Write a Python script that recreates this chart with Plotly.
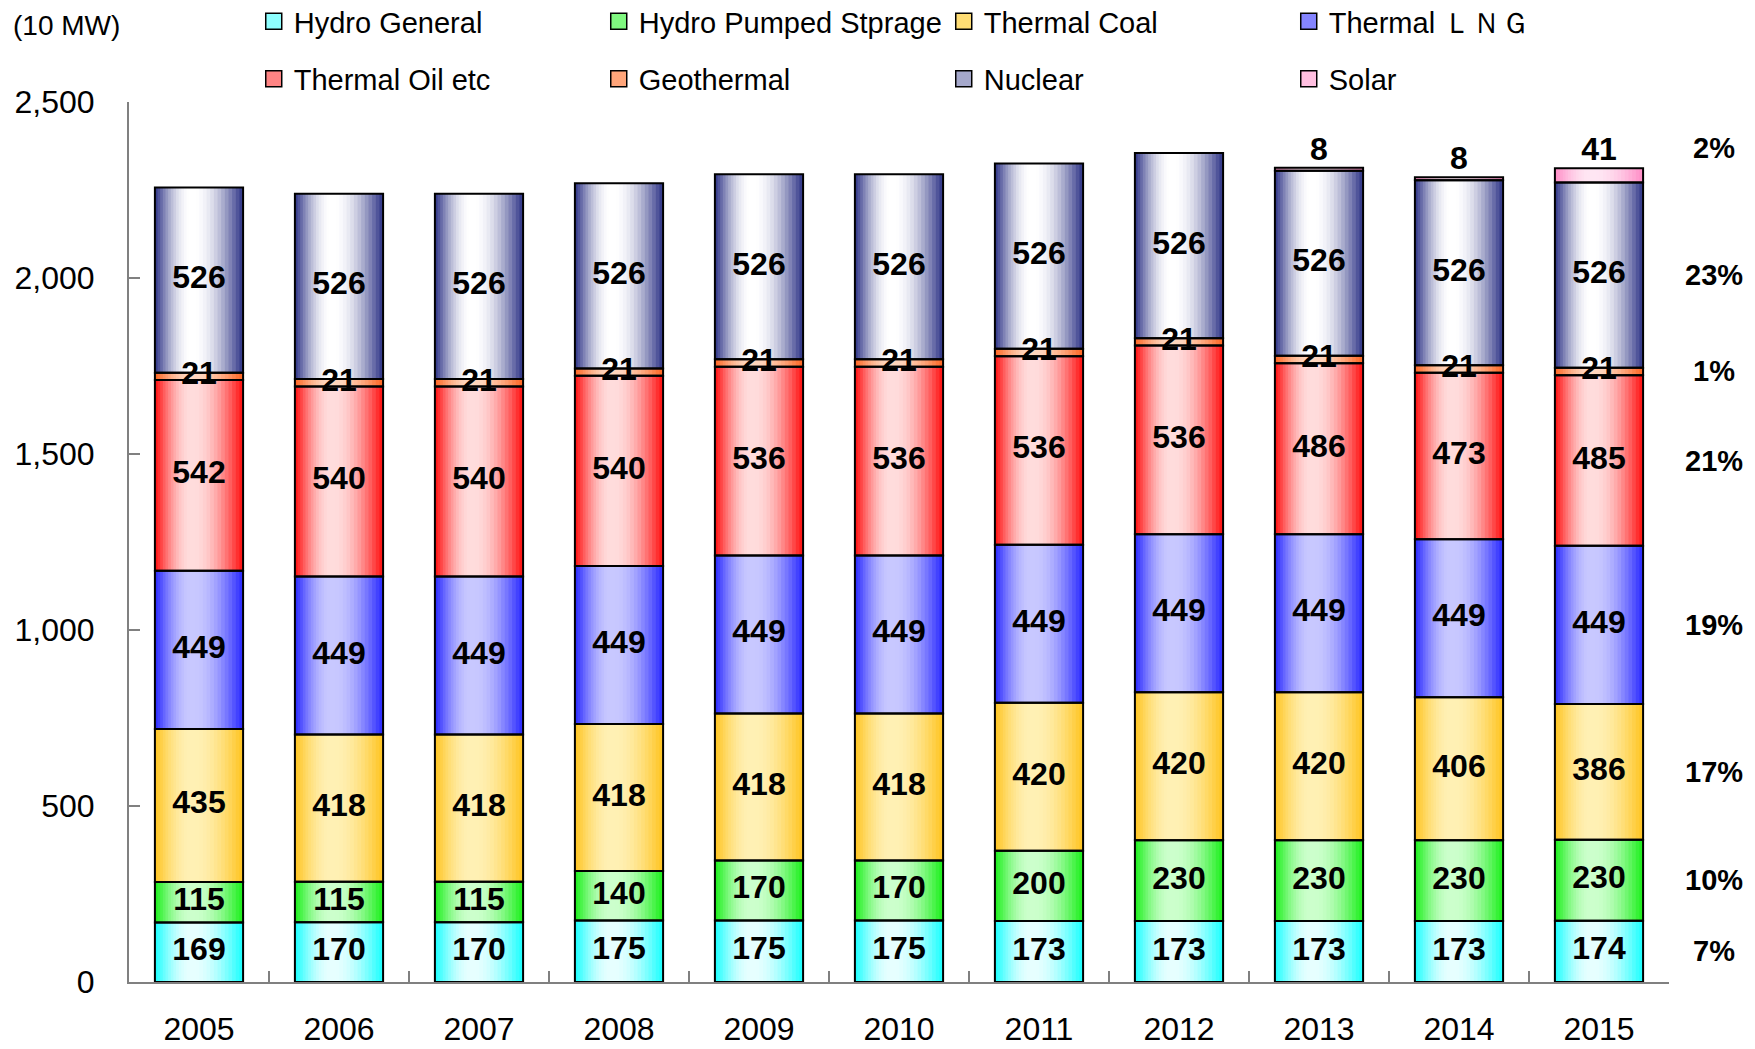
import numpy as np
import plotly.graph_objects as go

# ---------------- data ----------------
years = ["2005", "2006", "2007", "2008", "2009", "2010", "2011", "2012", "2013", "2014", "2015"]
hydro_general = [169, 170, 170, 175, 175, 175, 173, 173, 173, 173, 174]
hydro_pumped = [115, 115, 115, 140, 170, 170, 200, 230, 230, 230, 230]
thermal_coal = [435, 418, 418, 418, 418, 418, 420, 420, 420, 406, 386]
thermal_lng = [449, 449, 449, 449, 449, 449, 449, 449, 449, 449, 449]
thermal_oil = [542, 540, 540, 540, 536, 536, 536, 536, 486, 473, 485]
geothermal = [21, 21, 21, 21, 21, 21, 21, 21, 21, 21, 21]
nuclear = [526, 526, 526, 526, 526, 526, 526, 526, 526, 526, 526]
solar = [0, 0, 0, 0, 0, 0, 0, 0, 8, 8, 41]

series_names = ["Hydro General", "Hydro Pumped Stprage", "Thermal Coal", "Thermal ＬＮＧ",
                "Thermal Oil etc", "Geothermal", "Nuclear", "Solar"]
shares_2015 = ["7%", "10%", "17%", "19%", "21%", "1%", "23%", "2%"]
unit_label = "(10 MW)"

# ---------------- styles ----------------
edge_colors = ["#22FFFF", "#22F022", "#FFC626", "#3030FF", "#FF1818", "#FF6A28", "#383E8C", "#FF90C8"]
center_colors = ["#E6FFFF", "#CCFFCC", "#FFF0B4", "#C8C8FF", "#FFDCDC", "#FFD6BE", "#FFFFFF", "#FFE6F3"]

FONT = "Liberation Sans, Arial, sans-serif"
W = 0.63
N = 14
LIGHT_POS = 0.42


def hex2rgb(h):
    h = h.lstrip("#")
    return np.array([int(h[i:i + 2], 16) for i in (0, 2, 4)], dtype=float)


def lerp_color(c1, c2, t):
    a, b = hex2rgb(c1), hex2rgb(c2)
    c = a + (b - a) * t
    return "rgb(%d,%d,%d)" % tuple(np.round(c).astype(int))


values = [hydro_general, hydro_pumped, thermal_coal, thermal_lng, thermal_oil, geothermal, nuclear, solar]
arr = np.array(values, dtype=float)
bases = np.vstack([np.zeros(arr.shape[1]), np.cumsum(arr, axis=0)[:-1]])
totals = arr.sum(axis=0)

fig = go.Figure()

# legend entries (square markers)
for i, name in enumerate(series_names):
    fig.add_trace(go.Scatter(
        x=[None], y=[None], mode="markers", name=name,
        marker=dict(symbol="square", size=16, color=lerp_color(edge_colors[i], center_colors[i], 0.55),
                    line=dict(color="black", width=1.5)),
        legend="legend" if i < 4 else "legend2", showlegend=True, hoverinfo="skip",
    ))

# gradient fill layers
for i, name in enumerate(series_names):
    yv = [v if v > 0 else None for v in values[i]]
    for k in range(N):
        t = k / (N - 1)
        f = np.sin(t * np.pi / 2)
        a = k / N * W * LIGHT_POS
        b = k / N * W * (1 - LIGHT_POS)
        fig.add_trace(go.Bar(
            x=years, y=yv, base=bases[i],
            width=W - a - b, offset=-W / 2 + a,
            marker=dict(color=lerp_color(edge_colors[i], center_colors[i], f), line=dict(width=0)),
            name=name, showlegend=False, hoverinfo="skip",
        ))

# outlines
for i, name in enumerate(series_names):
    yv = [v if v > 0 else None for v in values[i]]
    fig.add_trace(go.Bar(
        x=years, y=yv, base=bases[i], width=W, offset=-W / 2,
        marker=dict(color="rgba(0,0,0,0)", line=dict(color="black", width=2)),
        showlegend=False, hoverinfo="skip",
    ))

# value labels
for i, name in enumerate(series_names):
    if name == "Solar":
        xs = [y for y, v in zip(years, values[i]) if v > 0]
        ys = [totals[j] for j, v in enumerate(values[i]) if v > 0]
        ts = [str(v) for v in values[i] if v > 0]
        pos = "top center"
    else:
        xs = years
        ys = list(bases[i] + arr[i] / 2)
        ts = [str(v) for v in values[i]]
        pos = "middle center"
    fig.add_trace(go.Scatter(
        x=xs, y=ys, text=ts, mode="text", textposition=pos,
        textfont=dict(family=FONT, size=32, color="black", weight="bold"),
        showlegend=False, hoverinfo="skip", cliponaxis=False,
    ))

# share annotations on the right (2015 composition)
for i, s in enumerate(shares_2015):
    if series_names[i] == "Solar":
        yy, ya, ysh = totals[-1], "bottom", 2
    else:
        yy, ya, ysh = bases[i][-1] + arr[i][-1] / 2, "middle", 0
    fig.add_annotation(x=1.029, xref="paper", y=yy, yref="y", text=s, showarrow=False,
                       xanchor="center", yanchor=ya, yshift=ysh,
                       font=dict(family=FONT, size=29, color="black", weight="bold"))

fig.add_annotation(x=-0.0766, xref="paper", y=1.0875, yref="paper", text=unit_label,
                   showarrow=False, xanchor="left", yanchor="middle",
                   font=dict(family=FONT, size=28, color="black"))

legend_common = dict(orientation="h", xanchor="left", yanchor="middle",
                     entrywidth=300, entrywidthmode="pixels",
                     font=dict(family=FONT, size=29, color="black"),
                     bgcolor="rgba(0,0,0,0)", borderwidth=0, traceorder="normal",
                     itemclick=False, itemdoubleclick=False)

fig.update_layout(
    width=1755, height=1049,
    margin=dict(l=129, r=86, t=102, b=67, autoexpand=False),
    paper_bgcolor="white", plot_bgcolor="white",
    barmode="overlay",
    font=dict(family=FONT, color="black"),
    legend=dict(x=0.081, y=1.0915, **legend_common),
    legend2=dict(x=0.081, y=1.0262, **legend_common),
    xaxis=dict(type="category", range=[-0.5, len(years) - 0.5], showline=True,
               linecolor="#808080", linewidth=2,
               ticks="inside", tickson="boundaries", ticklen=11, tickcolor="#808080", tickwidth=1.5,
               showgrid=False, tickfont=dict(family=FONT, size=32, color="black"),
               ticklabelstandoff=18),
    yaxis=dict(range=[0, 2500], dtick=500, tickformat=",d", showline=True, linecolor="#808080",
               linewidth=2, ticks="inside", ticklen=11, tickcolor="#808080", tickwidth=1.5,
               showgrid=False, zeroline=False, tickfont=dict(family=FONT, size=32, color="black"),
               ticklabelstandoff=26),
)

fig.write_html("out.html", config={"displayModeBar": False},
               post_script="document.body.style.margin='0';")
